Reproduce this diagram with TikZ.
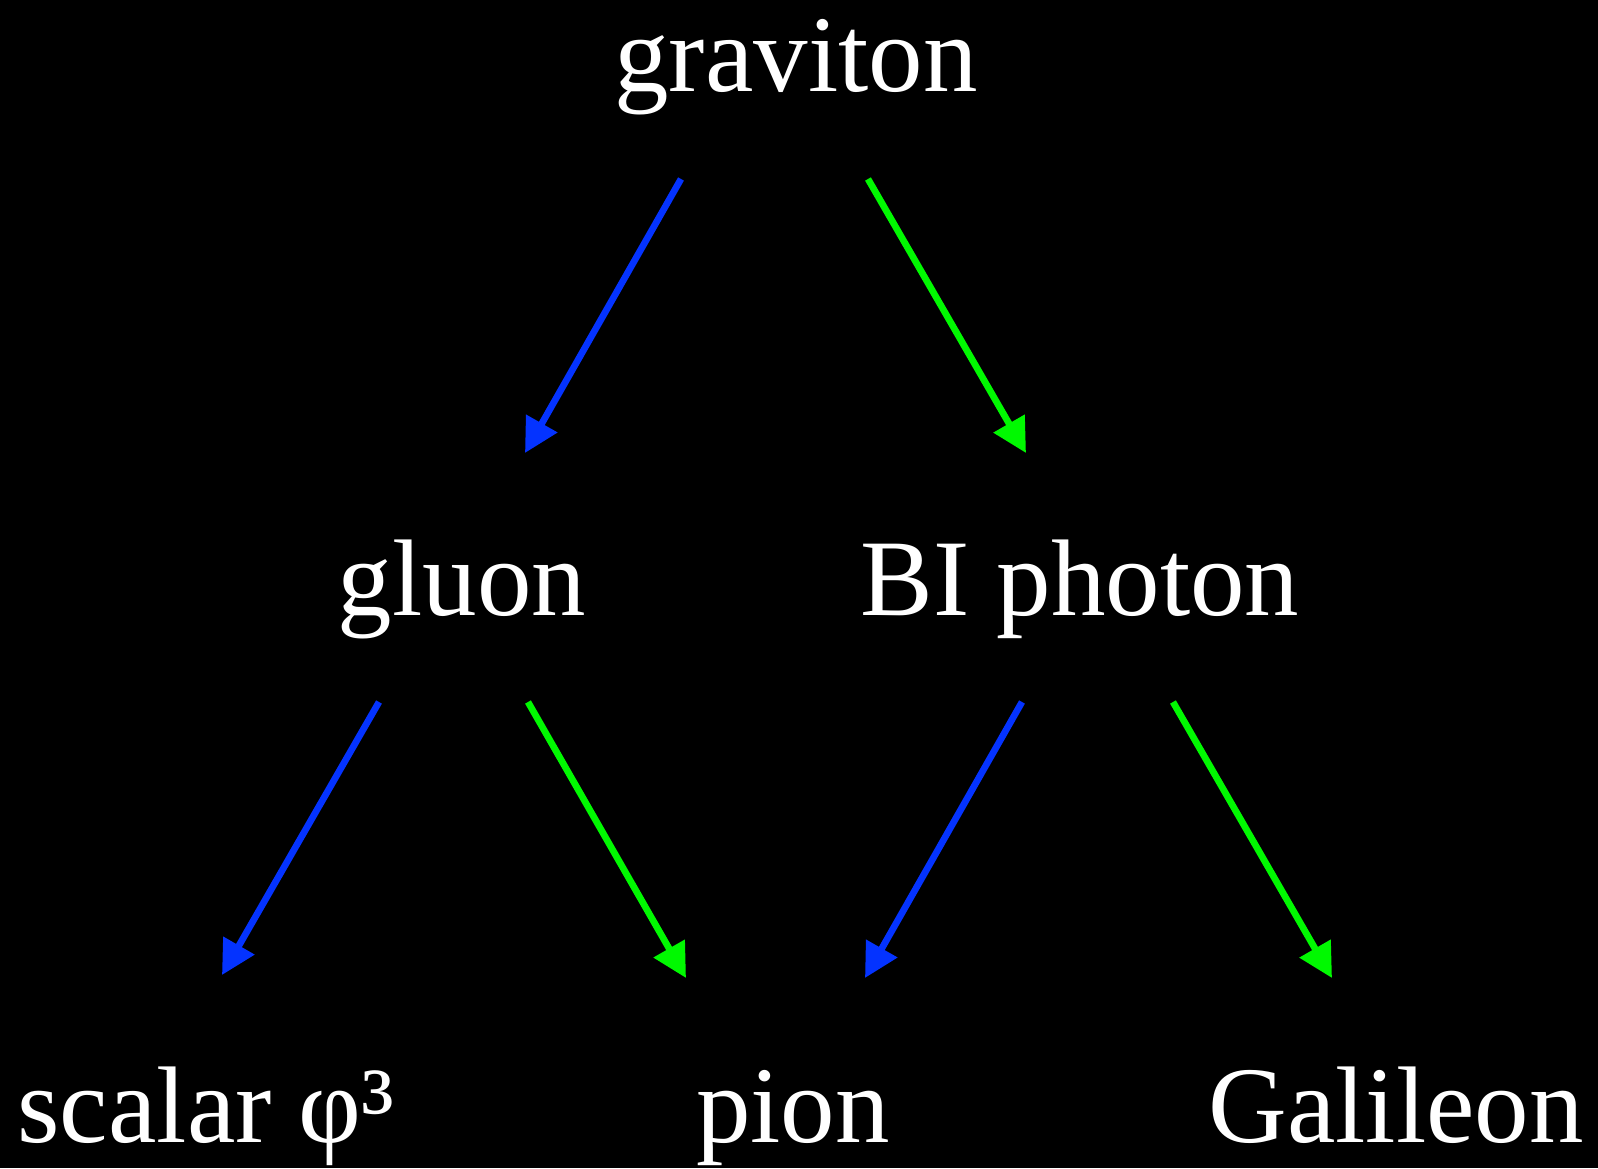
\documentclass[tikz,border=0pt]{standalone}
\usepackage{fontspec}
\setmainfont{Liberation Serif}
\usetikzlibrary{arrows.meta}
\definecolor{bArrow}{RGB}{4,51,255}
\definecolor{gArrow}{RGB}{0,249,0}
\begin{document}
\begin{tikzpicture}[x=1cm,y=1cm,font=\fontsize{31}{36}\selectfont,
  >={Triangle[length=3.4mm,width=3.45mm]},
  lbl/.style={text=white,inner sep=0pt,anchor=base},
  bflow/.style={->,draw=bArrow,fill=bArrow,line width=1.9pt},
  gflow/.style={->,draw=gArrow,fill=gArrow,line width=1.9pt}]
\fill[black] (0,0) rectangle (15.98,11.68);
\useasboundingbox (0,0) rectangle (15.98,11.68);
\node[lbl] (grav)   at (7.96,10.76) {graviton};
\node[lbl] (gluon)  at (4.62, 5.52) {gluon};
\node[lbl] (bi)     at (10.80,5.52) {BI photon};
\node[lbl] (scal)   at (2.06, 0.26) {scalar φ³};
\node[lbl] (pion)   at (7.93, 0.26) {pion};
\node[lbl] (gal)    at (13.96,0.26) {Galileon};
\draw[bflow] ([shift={(-1.15,-0.87)}]grav.base)  -- ([shift={(0.63,1.63)}]gluon.base);
\draw[gflow] ([shift={(0.72,-0.87)}]grav.base)   -- ([shift={(-0.54,1.63)}]bi.base);
\draw[bflow] ([shift={(-0.83,-0.86)}]gluon.base) -- ([shift={(0.16,1.67)}]scal.base);
\draw[gflow] ([shift={(0.66,-0.86)}]gluon.base)  -- ([shift={(-1.07,1.64)}]pion.base);
\draw[bflow] ([shift={(-0.58,-0.86)}]bi.base)    -- ([shift={(0.72,1.64)}]pion.base);
\draw[gflow] ([shift={(0.93,-0.86)}]bi.base)     -- ([shift={(-0.64,1.64)}]gal.base);
\end{tikzpicture}
\end{document}
